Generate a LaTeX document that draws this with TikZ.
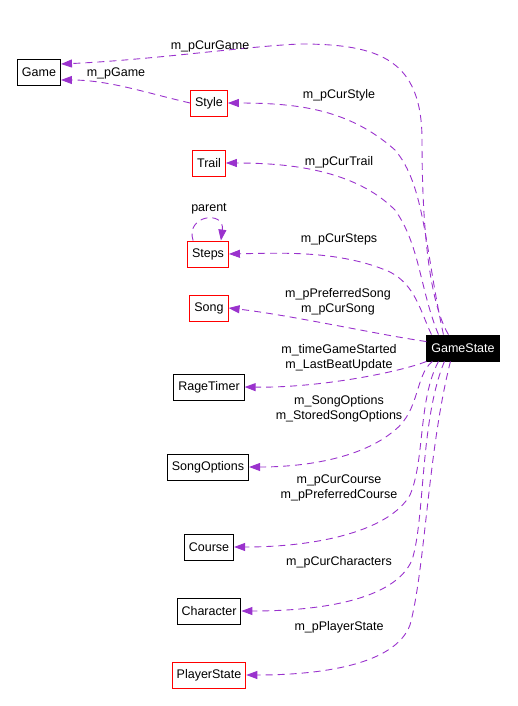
\documentclass[tikz,border=0pt]{standalone}
\usepackage{fontspec}
\setmainfont{Liberation Sans}
\usetikzlibrary{arrows.meta}

\definecolor{edgepurple}{HTML}{9A32CD}

\begin{document}
\begin{tikzpicture}[x=1pt, y=-1pt,
    every node/.style={font=\fontsize{12.5}{15}\selectfont},
    cls/.style={draw, line width=0.9pt, minimum height=26pt, inner xsep=4.5pt, inner ysep=0pt},
    redcls/.style={cls, draw=red},
    use/.style={draw=edgepurple, line width=0.9pt, dash pattern=on 7pt off 5pt,
        -{Triangle[length=11pt, width=8pt, fill=edgepurple]}},
    lbl/.style={align=center, inner sep=0pt}]
    \useasboundingbox (0, 0) rectangle (518, 706);

    % classes
    \node[fill=black, text=white, cls] (gs) at (463, 348) {GameState};
    \node[cls] (game) at (39, 72) {Game};
    \node[redcls] (style) at (209, 103) {Style};
    \node[redcls] (trail) at (209, 163) {Trail};
    \node[redcls] (steps) at (208, 254) {Steps};
    \node[redcls] (song) at (209, 308) {Song};
    \node[cls] (rage) at (209, 387) {RageTimer};
    \node[cls] (songopt) at (208, 467) {SongOptions};
    \node[cls] (course) at (209, 547) {Course};
    \node[cls] (char) at (209, 611) {Character};
    \node[redcls] (ps) at (209, 675) {PlayerState};

    % members
    \draw[use] ([xshift=22pt]gs.north west) .. controls (428, 300) and (422, 220) .. (422, 140)
        .. controls (422, 60) and (380, 44) .. (300, 44)
        .. controls (250, 46) and (150, 60) .. (game.20);
    \draw[use] (style.west) .. controls (150, 94) and (110, 80) .. (game.-20);
    \draw[use] ([xshift=17pt]gs.north west) .. controls (425, 250) and (425, 185) .. (395, 150)
        .. controls (350, 110) and (300, 103) .. (style.east);
    \draw[use] ([xshift=12pt]gs.north west) .. controls (420, 290) and (420, 245) .. (395, 210)
        .. controls (355, 170) and (290, 163) .. (trail.east);
    \draw[use] (steps.north west) ++(6, 0) .. controls (185, 215) and (225, 210) .. ([xshift=-8pt]steps.north east);
    \draw[use] ([xshift=5pt]gs.north west) .. controls (420, 310) and (415, 285) .. (390, 272)
        .. controls (340, 250) and (280, 253) .. (steps.east);
    \draw[use] (gs.170) .. controls (380, 335) and (290, 315) .. (song.east);
    \draw[use] (gs.south west) .. controls (400, 372) and (320, 388) .. (rage.east);
    \draw[use] ([xshift=6pt]gs.south west) .. controls (415, 375) and (420, 410) .. (395, 430)
        .. controls (360, 460) and (300, 467) .. (songopt.east);
    \draw[use] ([xshift=12pt]gs.south west) .. controls (418, 400) and (425, 460) .. (410, 495)
        .. controls (390, 530) and (320, 547) .. (course.east);
    \draw[use] ([xshift=18pt]gs.south west) .. controls (420, 420) and (425, 520) .. (412, 560)
        .. controls (395, 600) and (320, 611) .. (char.east);
    \draw[use] ([xshift=24pt]gs.south west) .. controls (428, 450) and (425, 570) .. (410, 625)
        .. controls (395, 665) and (320, 675) .. (ps.east);

    % labels
    \node[lbl] (lcurgame) at (210, 46) {m\_pCurGame};
    \node[lbl] (lgame) at (116, 73) {m\_pGame};
    \node[lbl] (lstyle) at (339, 95) {m\_pCurStyle};
    \node[lbl] (ltrail) at (339, 162) {m\_pCurTrail};
    \node[lbl] (lparent) at (209, 209) {parent};
    \node[lbl] (lsteps) at (339, 239) {m\_pCurSteps};
    \node[lbl] (lsong) at (338, 302) {m\_pPreferredSong\\m\_pCurSong};
    \node[lbl] (lrage) at (339, 358) {m\_timeGameStarted\\m\_LastBeatUpdate};
    \node[lbl] (lsongopt) at (339, 409) {m\_SongOptions\\m\_StoredSongOptions};
    \node[lbl] (lcourse) at (339, 488) {m\_pCurCourse\\m\_pPreferredCourse};
    \node[lbl] (lchar) at (339, 562) {m\_pCurCharacters};
    \node[lbl] (lps) at (339, 627) {m\_pPlayerState};
\end{tikzpicture}
\end{document}
